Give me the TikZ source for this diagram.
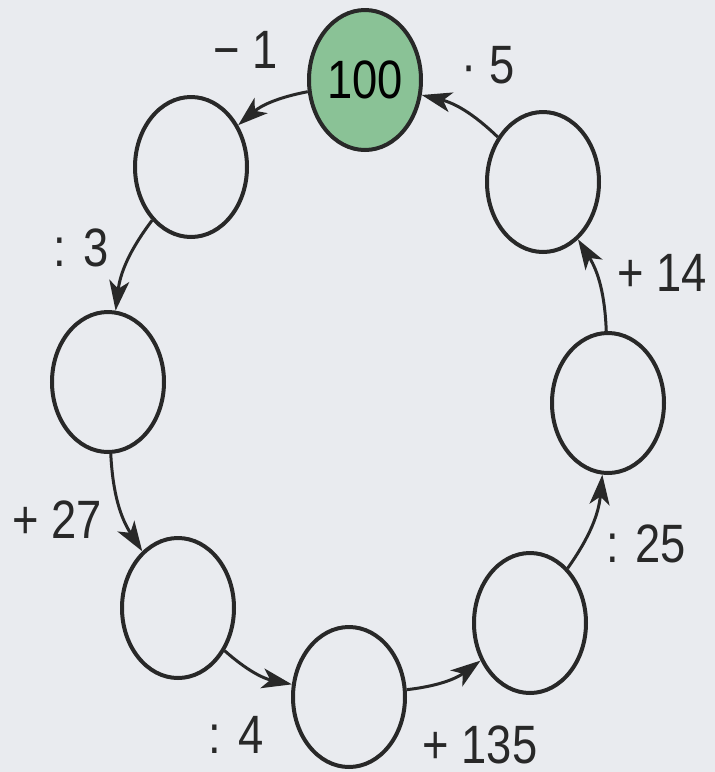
\documentclass[tikz,border=0pt]{standalone}
\usepackage{fontspec}
\setmainfont{Liberation Sans}[FakeStretch=0.84]
\usepackage{tikz}
\usetikzlibrary{arrows.meta,shapes.geometric}
\definecolor{ink}{RGB}{40,40,40}
\definecolor{leaf}{RGB}{138,194,150}
\definecolor{paper}{RGB}{233,235,239}

\begin{document}
\begin{tikzpicture}[x=0.5pt, y=-0.5pt,
  cell/.style={draw=ink, ellipse, line width=2pt, minimum width=56pt, minimum height=70pt, inner sep=0pt, font=\fontsize{27}{30}\selectfont},
  op/.style={text=ink, inner sep=0pt, font=\fontsize{27}{30}\selectfont},
  arr/.style={-{Stealth[length=15pt,width=10pt,inset=4pt]}, line width=1.5pt, draw=ink, bend right=15}
]
\fill[paper] (0,0) rectangle (715,772);
\useasboundingbox (0,0) rectangle (715,772);
\node[cell, fill=leaf] (n100) at (365,80) {100};
\node[cell] (nul) at (191,167) {};
\node[cell] (nl) at (108,382) {};
\node[cell] (ndl) at (178,608) {};
\node[cell] (nb) at (349,697) {};
\node[cell] (ndr) at (530,623) {};
\node[cell] (nr) at (608,403) {};
\node[cell] (nur) at (543,182) {};
\node[op] (tm1) at (246,50) {− 1};
\node[op] (td3) at (81,248) {: 3};
\node[op] (tp27) at (57,520) {+ 27};
\node[op] (td4) at (236,735) {: 4};
\node[op] (tp135) at (480,745) {+ 135};
\node[op] (td25) at (646,544) {: 25};
\node[op] (tp14) at (662,273) {+ 14};
\node[op] (tx5) at (488,65) {· 5};
\draw[arr] (n100) to (nul); \draw[arr] (nul) to (nl);
\draw[arr] (nl) to (ndl); \draw[arr] (ndl) to (nb);
\draw[arr] (nb) to (ndr); \draw[arr] (ndr) to (nr);
\draw[arr] (nr) to (nur); \draw[arr] (nur) to (n100);
\end{tikzpicture}
\end{document}
